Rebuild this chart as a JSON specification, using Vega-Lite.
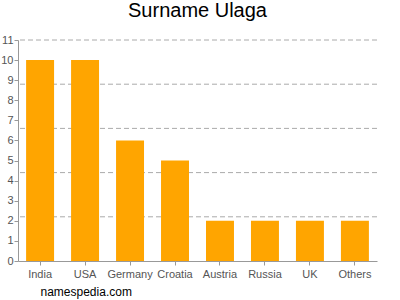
{
  "$schema": "https://vega.github.io/schema/vega-lite/v6.json",
  "autosize": {"type": "none"},
  "width": 359,
  "height": 221,
  "padding": {"left": 18, "top": 40, "right": 23, "bottom": 39},
  "config": {
    "view": {"stroke": null},
    "font": "Liberation Sans",
    "axis": {"labelOverlap": false}
  },
  "title": {
    "text": "Surname Ulaga",
    "fontSize": 20,
    "font": "Liberation Sans",
    "fontWeight": "normal",
    "color": "#000000",
    "anchor": "middle",
    "offset": 13
  },
  "datasets": {
    "bars": [
      {"country": "India", "count": 10},
      {"country": "USA", "count": 10},
      {"country": "Germany", "count": 6},
      {"country": "Croatia", "count": 5},
      {"country": "Austria", "count": 2},
      {"country": "Russia", "count": 2},
      {"country": "UK", "count": 2},
      {"country": "Others", "count": 2}
    ],
    "grid": [
      {"v": 2.2}, {"v": 4.4}, {"v": 6.6}, {"v": 8.8}, {"v": 11}
    ]
  },
  "layer": [
    {
      "data": {"name": "grid"},
      "mark": {"type": "rule", "stroke": "#aaaaaa", "strokeDash": [5, 3], "strokeWidth": 1},
      "encoding": {
        "y": {
          "field": "v",
          "type": "quantitative",
          "scale": {"domain": [0, 11], "nice": false},
          "axis": {
            "title": null,
            "values": [0,1,2,3,4,5,6,7,8,9,10,11],
            "labelOverlap": false,
            "labelFlush": false,
            "labelColor": "#555555",
            "labelFontSize": 11,
            "labelPadding": 1,
            "domainColor": "#999999",
            "tickColor": "#999999",
            "tickSize": 4,
            "grid": false
          }
        }
      }
    },
    {
      "data": {"name": "bars"},
      "mark": {"type": "bar", "color": "#FFA500"},
      "encoding": {
        "x": {
          "field": "country",
          "type": "nominal",
          "sort": null,
          "scale": {"paddingInner": 0.378, "paddingOuter": 0.18},
          "axis": {
            "title": "namespedia.com",
            "titleFontSize": 12,
            "titleFont": "Liberation Sans",
            "titleFontWeight": "normal",
            "titleColor": "#000000",
            "titleAnchor": "start",
            "titleAlign": "left",
            "titleBaseline": "alphabetic",
            "titleX": 22,
            "titleY": 34,
            "labelAngle": 0,
            "labelColor": "#555555",
            "labelFontSize": 11,
            "labelPadding": 3,
            "domainColor": "#999999",
            "tickColor": "#999999",
            "tickSize": 4,
            "grid": false
          }
        },
        "y": {
          "field": "count",
          "type": "quantitative",
          "axis": {
            "title": null,
            "values": [0,1,2,3,4,5,6,7,8,9,10,11],
            "labelOverlap": false,
            "labelFlush": false,
            "labelColor": "#555555",
            "labelFontSize": 11,
            "labelPadding": 1,
            "domainColor": "#999999",
            "tickColor": "#999999",
            "tickSize": 4,
            "grid": false
          }
        }
      }
    }
  ]
}
